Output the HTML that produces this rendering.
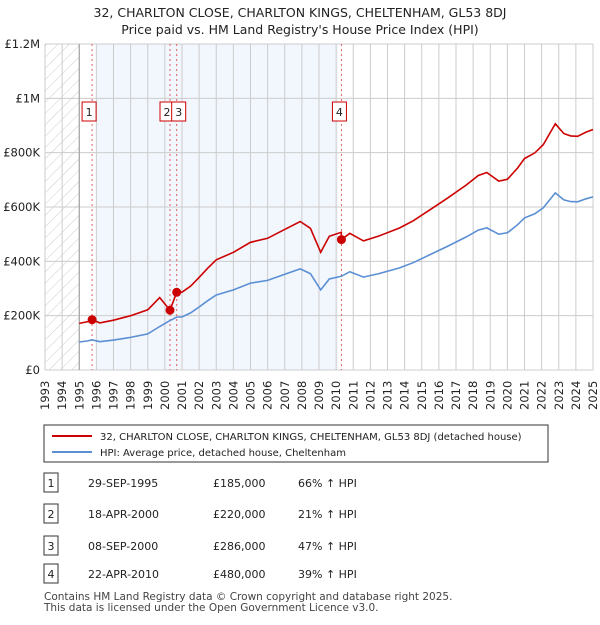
<!DOCTYPE html>
<html><head><meta charset="utf-8"><style>
body{margin:0;background:#fff;font-family:"Liberation Sans","DejaVu Sans",sans-serif;}
svg text{font-family:"DejaVu Sans","Liberation Sans",sans-serif;}
</style></head><body>
<svg id="c" width="600" height="620" viewBox="0 0 600 620" xmlns="http://www.w3.org/2000/svg">
<defs><pattern id="hatch" width="8" height="8" patternUnits="userSpaceOnUse" patternTransform="rotate(45)"><line x1="0" y1="0" x2="0" y2="8" stroke="#ccc" stroke-width="1"/></pattern></defs>
<text x="300" y="17" text-anchor="middle" font-size="12.5" fill="#222">32, CHARLTON CLOSE, CHARLTON KINGS, CHELTENHAM, GL53 8DJ</text>
<text x="300" y="34" text-anchor="middle" font-size="12.5" fill="#222">Price paid vs. HM Land Registry's House Price Index (HPI)</text>
<g id="plot"></g>
<g>
<rect x="44" y="425" width="504" height="37" fill="#fff" stroke="#333" stroke-width="1"/>
<line x1="52" y1="436" x2="92" y2="436" stroke="#cc0000" stroke-width="2"/>
<text x="100" y="440" font-size="10" fill="#222">32, CHARLTON CLOSE, CHARLTON KINGS, CHELTENHAM, GL53 8DJ (detached house)</text>
<line x1="52" y1="452" x2="92" y2="452" stroke="#5b8fd4" stroke-width="2"/>
<text x="100" y="456" font-size="10" fill="#222">HPI: Average price, detached house, Cheltenham</text>
</g>
<g id="table" font-size="11" fill="#222"></g>
<text x="44" y="600" font-size="10.5" fill="#444">Contains HM Land Registry data © Crown copyright and database right 2025.</text>
<text x="44" y="611" font-size="10.5" fill="#444">This data is licensed under the Open Government Licence v3.0.</text>
</svg>
<script>
const hpiYears=[1995.0,1995.5,1995.75,1996.2,1997,1998,1999,1999.7,2000.3,2000.7,2001,2001.5,2002,2002.5,2003,2004,2005,2006,2006.9,2007.9,2008.5,2009.1,2009.6,2010.3,2010.8,2011.6,2012.5,2013.7,2014.5,2015.7,2016.5,2017.6,2018.3,2018.8,2019.5,2020.0,2020.6,2021.0,2021.6,2022.1,2022.8,2023.3,2023.7,2024.1,2024.6,2025.0];
const hpiValues=[103000,107000,111000,104000,110000,120000,133000,160000,182000,195000,195000,210000,232000,255000,276000,295000,320000,330000,350000,372000,355000,295000,335000,345000,362000,342000,355000,376000,395000,431000,455000,490000,515000,523000,500000,505000,535000,560000,575000,597000,652000,626000,620000,619000,630000,637000];
const saleYears=[1995.75,2000.3,2000.69,2010.31];
const salePrices=[185000,220000,286000,480000];
const saleDates=["29-SEP-1995","18-APR-2000","08-SEP-2000","22-APR-2010"];
const salePct=["66% ↑ HPI","21% ↑ HPI","47% ↑ HPI","39% ↑ HPI"];
const yTicks=[0,200000,400000,600000,800000,1000000,1200000];
const yTickLabels=["£0","£200K","£400K","£600K","£800K","£1M","£1.2M"];
const xTicks=[];for(let y=1993;y<=2025;y++)xTicks.push(y);
const X0=45,X1=593,Y0=370,Y1=44;
const xs=y=>X0+(y-1993)/(2025-1993)*(X1-X0);
const ys=v=>Y0-v/1200000*(Y0-Y1);
const NS="http://www.w3.org/2000/svg";
const g=document.getElementById('plot');
function mk(t,a,p){const e=document.createElementNS(NS,t);for(const k in a)e.setAttribute(k,a[k]);(p||g).appendChild(e);return e;}
function hpiAt(y){for(let i=0;i<hpiYears.length-1;i++){if(y>=hpiYears[i]&&y<=hpiYears[i+1]){const t=(y-hpiYears[i])/(hpiYears[i+1]-hpiYears[i]);return hpiValues[i]+t*(hpiValues[i+1]-hpiValues[i]);}}return hpiValues[hpiValues.length-1];}
let r=mk('rect',{x:xs(1996),y:Y1,width:xs(2010.1)-xs(1996),height:Y0-Y1,fill:'#f2f6fd'});

r=mk('rect',{x:X0,y:Y1,width:xs(1995)-X0,height:Y0-Y1,fill:'url(#hatch)'});

xTicks.forEach(y=>{const l=mk('line',{x1:xs(y),x2:xs(y),y1:Y1,y2:Y0,stroke:'#ccc','stroke-width':1});

const t=mk('text',{x:0,y:0,transform:`translate(${xs(y)+4},${Y0+40}) rotate(-90)`,'font-size':11.5,fill:'#222'});t.textContent=y;
});
yTicks.forEach((v,i)=>{const l=mk('line',{x1:X0,x2:X1,y1:ys(v),y2:ys(v),stroke:'#ccc','stroke-width':1});

const t=mk('text',{x:X0-5,y:ys(v)+4,'text-anchor':'end','font-size':11.5,fill:'#222'});t.textContent=yTickLabels[i];
});
let ax=mk('line',{x1:xs(1995),x2:xs(1995),y1:Y1,y2:Y0,stroke:'#999','stroke-width':1});

const boxOff=[-3,-3,2,-2];
saleYears.forEach((y,i)=>{const l=mk('line',{x1:xs(y),x2:xs(y),y1:Y1,y2:Y0,stroke:'#e06060','stroke-width':1,'stroke-dasharray':'2,3'});

const bx=xs(y)+boxOff[i];
const b=mk('rect',{x:bx-7,y:102,width:14,height:19,fill:'#fff',stroke:'#c00','stroke-width':1});

const t=mk('text',{x:bx,y:116,'text-anchor':'middle','font-size':11,fill:'#222'});t.textContent=i+1;
});
let d='';hpiYears.forEach((y,i)=>{d+=(i?'L':'M')+xs(y).toFixed(1)+','+ys(hpiValues[i]).toFixed(1);});
let p=mk('path',{d:d,fill:'none',stroke:'#5b8fd4','stroke-width':1.6});

const ratios=saleYears.map((y,i)=>salePrices[i]/hpiAt(y));
const pts=[];
hpiYears.forEach((y,i)=>pts.push([y,hpiValues[i]]));
saleYears.forEach(y=>pts.push([y,hpiAt(y)]));
pts.sort((a,b)=>a[0]-b[0]);
d='';pts.forEach((pt,i)=>{let k=0;for(let j=0;j<saleYears.length;j++)if(pt[0]>=saleYears[j])k=j;
const prev=k>0&&pt[0]<saleYears[k]?k-1:k;const v=pt[1]*ratios[prev];
d+=(i?'L':'M')+xs(pt[0]).toFixed(1)+','+ys(v).toFixed(1);});
p=mk('path',{d:d,fill:'none',stroke:'#cc0000','stroke-width':1.6});

saleYears.forEach((y,i)=>{const c=mk('circle',{cx:xs(y),cy:ys(salePrices[i]),r:4.5,fill:'#cc0000'});
});
const tb=document.getElementById('table');
const rowY=[483,514,546,574];
saleDates.forEach((dt,i)=>{const y=rowY[i];
const b=mk('rect',{x:44,y:y-10,width:14,height:19,fill:'#fff',stroke:'#333','stroke-width':1},tb);

const cells=[[51,String(i+1),'middle'],[88,dt,'start'],[213,'£'+salePrices[i].toLocaleString('en-GB'),'start'],[298,salePct[i],'start']];
cells.forEach(c=>{const t=mk('text',{x:c[0],y:y+4,'text-anchor':c[2]},tb);t.textContent=c[1];
});});
</script>
</body></html>
